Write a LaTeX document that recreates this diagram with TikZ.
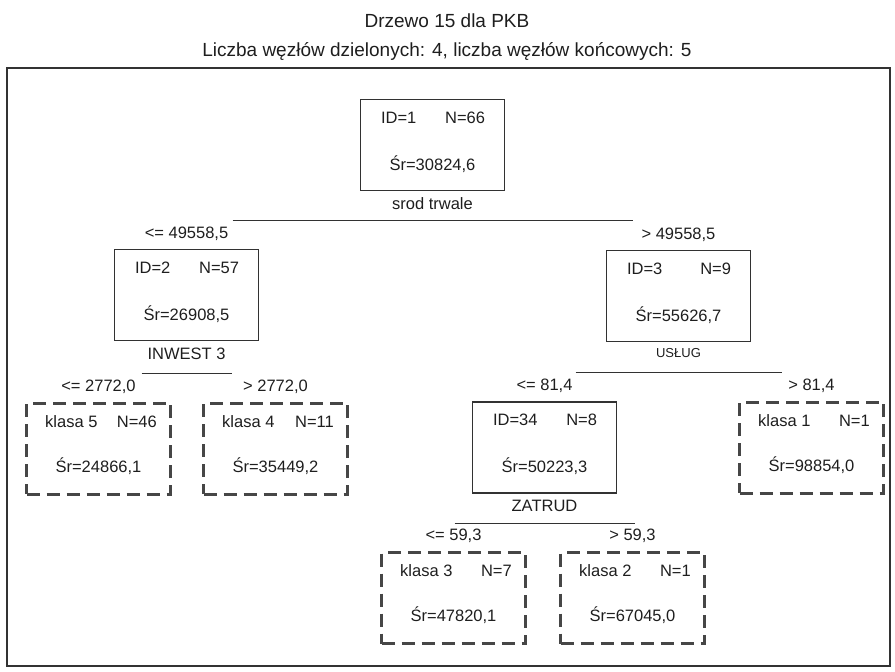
\documentclass[tikz,border=0pt]{standalone}
\usepackage{fontspec}
\setmainfont{Liberation Sans}
\usetikzlibrary{positioning}
\definecolor{treeInk}{RGB}{30,30,30}
\definecolor{treeLine}{RGB}{50,50,50}
\definecolor{treeDash}{RGB}{70,70,70}

\tikzset{
  splitbox/.style={draw=treeLine, line width=1.4pt, minimum width=144pt, minimum height=91pt, inner sep=0pt},
  leafbox/.style={draw=treeDash, line width=3pt, dash pattern=on 13pt off 7pt, minimum width=144pt, minimum height=91pt, inner sep=0pt},
  boxtext/.style={treeInk, font=\fontsize{16.5}{19}\selectfont, inner sep=0pt, text height=12pt, text depth=3pt},
  condtext/.style={boxtext},
  vartext/.style={boxtext},
  titletext/.style={treeInk, font=\fontsize{19}{22}\selectfont, inner sep=0pt, text height=14pt, text depth=4pt},
  splitbar/.style={draw=treeLine, line width=1.1pt}
}

\begin{document}
\begin{tikzpicture}[x=1pt,y=-1pt]
  \useasboundingbox (0,0) rectangle (895,672);
  % heading
  \node[titletext] (title) at (447,22) {Drzewo 15 dla PKB};
  \node[titletext] (subtitle) at (447,51) {Liczba węzłów dzielonych: 4, liczba węzłów końcowych: 5};
  \draw[treeLine, line width=1.6pt] (7,68) rectangle (890,666);

  % split nodes
  \foreach \nm/\cx/\cy/\tag/\cnt/\avg in {n1/432.5/145/ID=1/66/30824{,}6, n2/186.5/295/ID=2/57/26908{,}5,
      n3/678.5/296/ID=3/9/55626{,}7, n34/544.5/447.5/ID=34/8/50223{,}3} {
    \node[splitbox] (\nm) at (\cx,\cy) {};
    \node[boxtext, anchor=west] (\nm-tag) at ([xshift=21pt,yshift=-20pt]\nm.north west) {\tag};
    \node[boxtext, anchor=east] (\nm-cnt) at ([xshift=-20pt,yshift=-20pt]\nm.north east) {N=\cnt};
    \node[boxtext] (\nm-avg) at ([yshift=-67pt]\nm.north) {Śr=\avg};
  }
  % leaves
  \foreach \nm/\cx/\cy/\tag/\cnt/\avg in {k5/98.5/448.5/klasa 5/46/24866{,}1, k4/275.5/448.5/klasa 4/11/35449{,}2,
      k1/811.5/447.5/klasa 1/1/98854{,}0, k3/453.5/598/klasa 3/7/47820{,}1, k2/632.5/598/klasa 2/1/67045{,}0} {
    \node[leafbox] (\nm) at (\cx,\cy) {};
    \node[boxtext, anchor=west] (\nm-tag) at ([xshift=20pt,yshift=-21pt]\nm.north west) {\tag};
    \node[boxtext, anchor=east] (\nm-cnt) at ([xshift=-15pt,yshift=-21pt]\nm.north east) {N=\cnt};
    \node[boxtext] (\nm-avg) at ([yshift=-66pt]\nm.north) {Śr=\avg};
  }

  % split variables
  \node[vartext, below=6pt of n1] (n1-var) {srod trwale};
  \node[vartext, below=6pt of n2] (n2-var) {INWEST 3};
  \node[vartext, font=\fontsize{13}{15}\selectfont, text height=9.5pt, below=6pt of n3] (n3-var) {USŁUG};
  \node[vartext, below=6pt of n34] (n34-var) {ZATRUD};

  % split bars
  \foreach \nm/\dy/\hw in {n1/29/200, n2/32/45, n3/30/103, n34/30/90} {
    \coordinate (\nm-l) at ([xshift=-\hw pt,yshift=-\dy pt]\nm.south);
    \coordinate (\nm-r) at ([xshift=\hw pt,yshift=-\dy pt]\nm.south);
    \draw[splitbar] (\nm-l) -- (\nm-r);
  }

  % conditions
  \foreach \ch/\cond in {n2/{<= 49558{,}5}, n3/{> 49558{,}5}, k5/{<= 2772{,}0}, k4/{> 2772{,}0},
      n34/{<= 81{,}4}, k1/{> 81{,}4}, k3/{<= 59{,}3}, k2/{> 59{,}3}} {
    \node[condtext] (\ch-cond) at ([yshift=15pt]\ch.north) {\cond};
  }
\end{tikzpicture}
\end{document}
